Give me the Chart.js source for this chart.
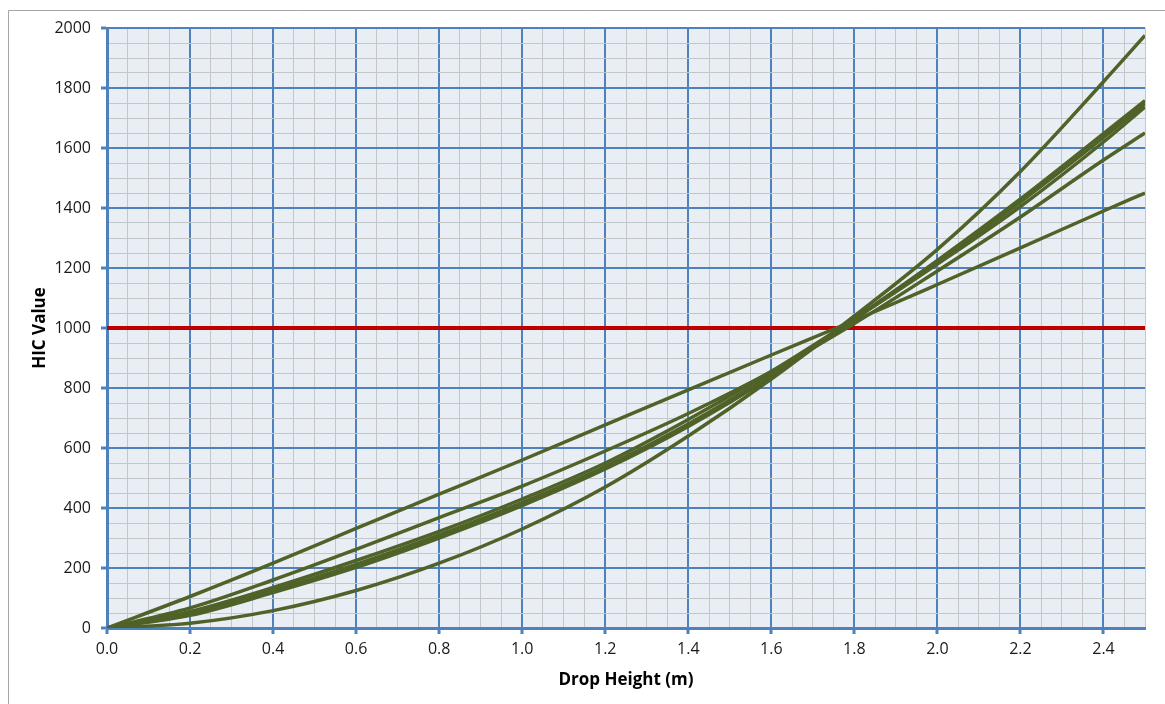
<!DOCTYPE html>
<html>
<head>
<meta charset="utf-8">
<script src="https://cdn.jsdelivr.net/npm/chart.js@4.4.1/dist/chart.umd.min.js"></script>
<style>
  html, body { margin: 0; padding: 0; background: #ffffff; }
  #wrap { position: relative; width: 1165px; height: 704px; }
</style>
</head>
<body>
<div id="wrap"><canvas id="c" width="1165" height="704"></canvas></div>
<script>
// ---- Data ----
const dropHeights = [0, 0.2, 0.4, 0.6, 0.8, 1.0, 1.2, 1.4, 1.6, 1.8, 2.0, 2.2, 2.4, 2.5];
const curveA = [0, 105, 216, 332, 446, 560, 677, 794, 910, 1025, 1145, 1267, 1390, 1450];
const curveB = [0, 67, 160, 262, 368, 473, 590, 715, 855, 1015, 1190, 1370, 1560, 1650];
const curveC = [0, 55, 135, 225, 322, 430, 550, 695, 855, 1030, 1213, 1405, 1620, 1737];
const curveD = [0, 48, 125, 212, 310, 418, 538, 680, 845, 1030, 1220, 1420, 1635, 1748];
const curveE = [0, 42, 118, 202, 300, 408, 530, 672, 838, 1030, 1225, 1430, 1648, 1758];
const curveF = [0, 16, 58, 125, 216, 330, 470, 640, 830, 1040, 1262, 1522, 1821, 1975];
const hicCurves = [curveA, curveB, curveC, curveD, curveE, curveF];
const limitX = [0, 2.5];
const limitY = [1000, 1000];
const xTitle = 'Drop Height (m)';
const yTitle = 'HIC Value';

// ---- Styles ----
const OLIVE = '#4f6228';
const RED = '#c00000';
const MAJOR = '#4f81bd';
const MINOR = '#c3c7cc';
const FONT = "'Open Sans', 'Liberation Sans', sans-serif";

const isMajor = (v, step) => Math.abs(v / step - Math.round(v / step)) < 1e-6;

const datasets = hicCurves.map((arr) => ({
  data: dropHeights.map((h, i) => ({ x: h, y: arr[i] })),
  borderColor: OLIVE,
  borderWidth: 3.5,
  pointRadius: 0,
  fill: false,
  cubicInterpolationMode: 'monotone'
}));
datasets.push({
  data: limitX.map((x, i) => ({ x: x, y: limitY[i] })),
  borderColor: RED,
  borderWidth: 4,
  pointRadius: 0,
  fill: false
});

const bgPlugin = {
  id: 'bg',
  beforeDraw(chart) {
    const { ctx, chartArea: a } = chart;
    ctx.save();
    ctx.fillStyle = '#ffffff';
    ctx.fillRect(0, 0, chart.width, chart.height);
    ctx.strokeStyle = '#a6a6a6';
    ctx.lineWidth = 1;
    ctx.beginPath();
    ctx.moveTo(8.5, 704);
    ctx.lineTo(8.5, 10.5);
    ctx.lineTo(1165, 10.5);
    ctx.stroke();
    ctx.fillStyle = '#e9edf4';
    ctx.fillRect(a.left, a.top, a.right - a.left, a.bottom - a.top);
    ctx.restore();
  }
};

new Chart(document.getElementById('c'), {
  type: 'line',
  data: { datasets },
  plugins: [bgPlugin],
  options: {
    responsive: false,
    animation: false,
    devicePixelRatio: 1,
    layout: { padding: { top: 28, right: 20, left: 0, bottom: 0 } },
    plugins: { legend: { display: false }, tooltip: { enabled: false } },
    scales: {
      x: {
        type: 'linear',
        min: 0,
        max: 2.5,
        afterFit: (s) => { s.height = 76; },
        ticks: {
          stepSize: 0.05,
          autoSkip: false,
          maxRotation: 0,
          minRotation: 0,
          padding: 6,
          color: '#1a1a1a',
          font: { family: FONT, size: 16 },
          callback: (v) => isMajor(v, 0.2) ? Number(v).toFixed(1) : ''
        },
        grid: {
          color: (c) => isMajor(c.tick.value, 0.2) ? MAJOR : MINOR,
          lineWidth: (c) => isMajor(c.tick.value, 0.2) ? 2 : 1,
          tickColor: (c) => isMajor(c.tick.value, 0.2) ? MAJOR : 'rgba(0,0,0,0)',
          tickLength: 6,
          tickWidth: 3
        },
        border: { display: true, color: MAJOR, width: 3 },
        title: {
          display: true,
          text: xTitle,
          color: '#000000',
          font: { family: FONT, size: 17, weight: 'bold' },
          padding: { top: 0, bottom: 14 }
        }
      },
      y: {
        type: 'linear',
        min: 0,
        max: 2000,
        afterFit: (s) => { s.width = 107; },
        ticks: {
          stepSize: 50,
          autoSkip: false,
          padding: 10,
          color: '#1a1a1a',
          font: { family: FONT, size: 16 },
          callback: (v) => isMajor(v, 200) ? String(v) : ''
        },
        grid: {
          color: (c) => isMajor(c.tick.value, 200) ? MAJOR : MINOR,
          lineWidth: (c) => isMajor(c.tick.value, 200) ? 2 : 1,
          tickColor: (c) => isMajor(c.tick.value, 200) ? MAJOR : 'rgba(0,0,0,0)',
          tickLength: 6,
          tickWidth: 3
        },
        border: { display: true, color: MAJOR, width: 3 },
        title: {
          display: true,
          text: yTitle,
          color: '#000000',
          font: { family: FONT, size: 17, weight: 'bold' },
          padding: { top: 30, bottom: 0 }
        }
      }
    }
  }
});
</script>
</body>
</html>
